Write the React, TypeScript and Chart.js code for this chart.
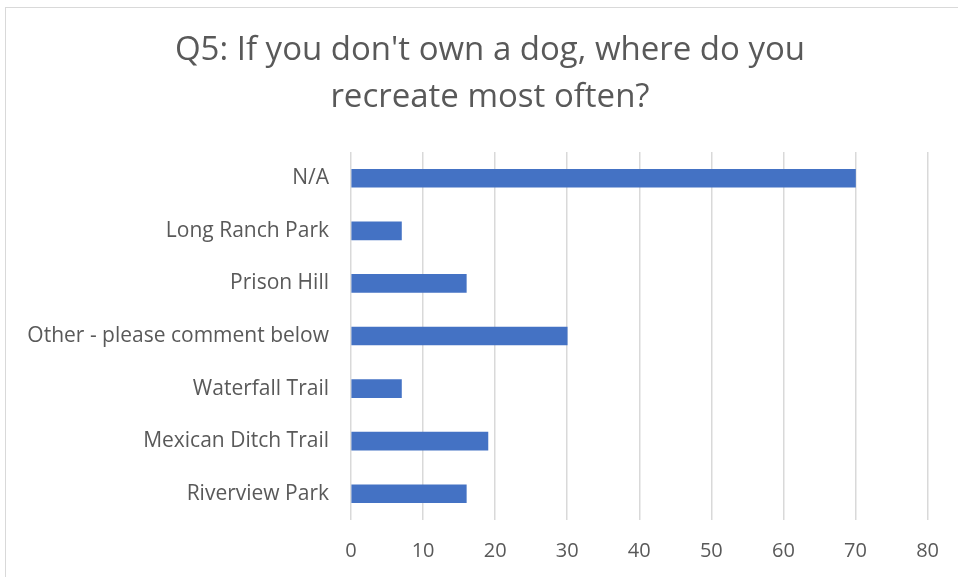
import React, { useEffect, useRef } from "react";
import { Chart, registerables } from "chart.js";

Chart.register(...registerables);

const categories = [
  "N/A",
  "Long Ranch Park",
  "Prison Hill",
  "Other - please comment below",
  "Waterfall Trail",
  "Mexican Ditch Trail",
  "Riverview Park",
];
const counts = [70, 7, 16, 30, 7, 19, 16];
const titleLines = ["Q5: If you don't own a dog, where do you", "recreate most often?"];
const xMin = 0;
const xMax = 80;
const xStep = 10;

const FONT = "'Open Sans', Lato, sans-serif";
const TEXT = "#595959";

const titlePlugin = {
  id: "customTitle",
  afterDraw(chart: any) {
    const ctx = chart.ctx;
    ctx.save();
    ctx.font = `33px ${FONT}`;
    ctx.fillStyle = TEXT;
    ctx.textAlign = "center";
    ctx.textBaseline = "middle";
    ctx.fillText(titleLines[0], 490, 51);
    ctx.fillText(titleLines[1], 490, 98);
    ctx.restore();
  },
};

export default function App() {
  const ref = useRef<HTMLCanvasElement>(null);
  useEffect(() => {
    document.body.style.margin = "0";
    const chart = new Chart(ref.current!, {
      type: "bar",
      data: {
        labels: categories,
        datasets: [
          {
            data: counts,
            backgroundColor: "#4472C4",
            barThickness: 18,
          },
        ],
      },
      options: {
        indexAxis: "y",
        responsive: false,
        animation: false,
        devicePixelRatio: 1,
        layout: { padding: { left: 0, right: 30, top: 152, bottom: 0 } },
        plugins: { legend: { display: false }, tooltip: { enabled: false }, title: { display: false } },
        scales: {
          x: {
            min: xMin,
            max: xMax,
            ticks: { stepSize: xStep, color: TEXT, font: { family: FONT, size: 20 }, padding: 19 },
            grid: { color: "#d9d9d9", lineWidth: 1.5, drawTicks: false },
            border: { display: false },
            afterFit(scale: any) {
              scale.height = 57;
            },
          },
          y: {
            ticks: { color: TEXT, font: { family: FONT, size: 21 }, padding: 22 },
            grid: { display: false, drawTicks: false },
            border: { display: false },
            afterFit(scale: any) {
              scale.width = 351;
            },
          },
        },
      },
      plugins: [titlePlugin],
    });
    return () => chart.destroy();
  }, []);
  return (
    <div style={{ position: "fixed", left: 0, top: 0, width: 958, height: 577, overflow: "hidden", background: "#fff" }}>
      <div
        style={{
          position: "absolute",
          left: 5,
          top: 7,
          width: 2000,
          height: 2000,
          border: "1px solid #d9d9d9",
        }}
      />
      <canvas ref={ref} width={958} height={577} style={{ position: "absolute", left: 0, top: 0, width: 958, height: 577 }} />
    </div>
  );
}
